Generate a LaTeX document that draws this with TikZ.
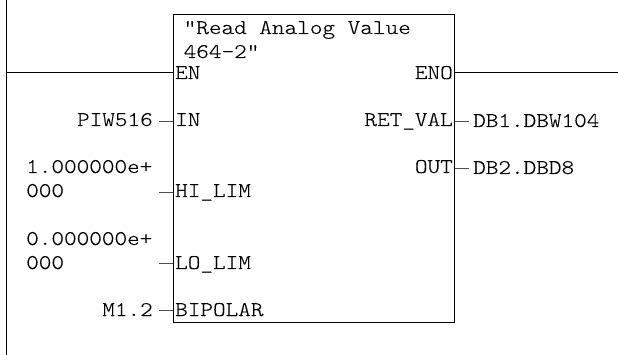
\documentclass[tikz,border=0pt]{standalone}
\usepackage{fontspec}
\setmainfont[FakeStretch=1.15,FakeBold=0.25,Ligatures=NoCommon]{Latin Modern Mono Light}
\definecolor{stub}{gray}{0.3}
\definecolor{ink}{gray}{0.0}
\tikzset{
  x=1pt,y=-1pt,
  txt/.style={inner xsep=0pt,inner ysep=0pt,font=\fontsize{20.9}{24}\selectfont,text=ink},
  inlabel/.style={txt,anchor=base east,inner xsep=6pt},
  outlabel/.style={txt,anchor=base west,inner xsep=4pt},
  pinl/.style={txt,anchor=base west},
  pinr/.style={txt,anchor=base east},
  wire/.style={draw=ink,line width=1pt},
  stubwire/.style={draw=stub,line width=0.9pt},
  fbox/.style={draw=ink,line width=1pt,minimum width=281.5pt,minimum height=307pt,anchor=north west,inner sep=0pt}
}
\begin{document}
\begin{tikzpicture}
\useasboundingbox[fill=white] (0,0) rectangle (618,355);
\coordinate (railtop) at (6,0);
\coordinate (railbot) at (6,355);
\coordinate (railen) at (6,73);
\coordinate (rightend) at (618,73);
\node[fbox] (fb) at (172.5,14.5) {};
\draw[wire] (railtop) -- (railbot);
\draw[wire] (railen) -- (fb.west |- railen);
\draw[wire] (fb.east |- rightend) -- (rightend);
\node[txt,anchor=base west] (title1) at (183.5,34) {\symbol{34}Read Analog Value};
\node[txt,anchor=base west] (title2) at (183.5,58) {464-2\symbol{34}};
% input pins
\node[pinl] (en) at (175,79) {EN};
\node[pinl] (in) at (175,126) {IN};
\node[pinl] (hi) at (175,197) {HI\_LIM};
\node[pinl] (lo) at (175,269) {LO\_LIM};
\node[pinl] (bip) at (175,316) {BIPOLAR};
% output pins
\node[pinr] (eno) at (453,79) {ENO};
\node[pinr] (ret) at (453,126) {RET\_VAL};
\node[pinr] (out) at (453,173) {OUT};
% operands
\node[inlabel] (piw) at (159,126) {PIW516};
\node[txt,anchor=base west] (hia) at (26,173) {1.000000e+};
\node[txt,anchor=base west] (hib) at (26,197) {000};
\node[txt,anchor=base west] (loa) at (26,245) {0.000000e+};
\node[txt,anchor=base west] (lob) at (26,269) {000};
\node[inlabel] (m) at (159,316) {M1.2};
\node[outlabel] (db1) at (469,127) {DB1.DBW104};
\node[outlabel] (db2) at (469,174) {DB2.DBD8};
% stub wires
\coordinate (yin) at (0,121);
\coordinate (yhi) at (159,192);
\coordinate (ylo) at (159,263);
\coordinate (ybip) at (0,310);
\coordinate (yret) at (0,121);
\coordinate (yout) at (0,168);
\draw[stubwire] (piw.east |- yin) -- (fb.west |- yin);
\draw[stubwire] (yhi) -- (fb.west |- yhi);
\draw[stubwire] (ylo) -- (fb.west |- ylo);
\draw[stubwire] (m.east |- ybip) -- (fb.west |- ybip);
\draw[stubwire] (fb.east |- yret) -- (db1.west |- yret);
\draw[stubwire] (fb.east |- yout) -- (db2.west |- yout);
\end{tikzpicture}
\end{document}
